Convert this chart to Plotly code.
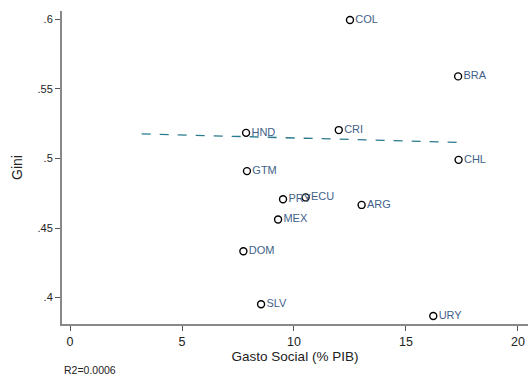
import plotly.graph_objects as go

countries = ["COL", "BRA", "CRI", "CHL", "HND", "GTM", "PRY", "ECU", "ARG", "MEX", "DOM", "SLV", "URY"]
gasto = [12.5, 17.33, 12.0, 17.35, 7.86, 7.9, 9.51, 10.52, 13.02, 9.29, 7.74, 8.53, 16.22]
gini = [0.5995, 0.559, 0.5204, 0.499, 0.5184, 0.4909, 0.4707, 0.472, 0.4666, 0.4561, 0.4333, 0.3952, 0.3868]
fit_x = [3.2, 17.4]
fit_y = [0.5177, 0.5115]
x_ticks = [0, 5, 10, 15, 20]
y_ticks = [0.4, 0.45, 0.5, 0.55, 0.6]
y_ticklabels = [".4", ".45", ".5", ".55", ".6"]

font = "Liberation Sans, Arial, sans-serif"

fig = go.Figure()
fig.add_trace(go.Scatter(
    x=fit_x, y=fit_y, mode="lines",
    line=dict(color="#2a7a8e", width=1.3, dash="dash"),
    hoverinfo="skip", showlegend=False))
fig.add_trace(go.Scatter(
    x=gasto, y=gini, mode="markers+text", text=countries,
    textposition="middle right",
    textfont=dict(family=font, size=11, color="#3f6189"),
    marker=dict(symbol="circle-open", size=7, color="black", line=dict(width=1.4, color="black")),
    showlegend=False))

fig.update_layout(
    width=528, height=377,
    margin=dict(l=62, r=0, t=11, b=53),
    paper_bgcolor="white", plot_bgcolor="white",
    font=dict(family=font, size=12, color="#222"),
    xaxis=dict(range=[-0.36, 20.45], tickvals=x_ticks, showgrid=False, zeroline=False,
               showline=True, linecolor="#888", linewidth=2,
               ticks="outside", ticklen=5, tickcolor="#555", tickwidth=1,
               tickfont=dict(size=12.5, color="#222"),
               title=dict(text="Gasto Social (% PIB)", font=dict(size=13.5), standoff=2)),
    yaxis=dict(range=[0.381, 0.606], tickvals=y_ticks, ticktext=y_ticklabels,
               showgrid=False, zeroline=False,
               showline=True, linecolor="#888", linewidth=2,
               ticks="outside", ticklen=5, tickcolor="#555", tickwidth=1,
               tickfont=dict(size=11, color="#222"),
               title=dict(text="Gini", font=dict(size=14), standoff=12)),
    annotations=[dict(text="R2=0.0006", xref="paper", yref="paper",
                      x=-0.0, y=-0.12, xanchor="left", yanchor="top", showarrow=False,
                      font=dict(size=10.5, color="#222"))],
)

fig.write_html("out.html", config={"displayModeBar": False},
               post_script="document.body.style.margin='0';")
